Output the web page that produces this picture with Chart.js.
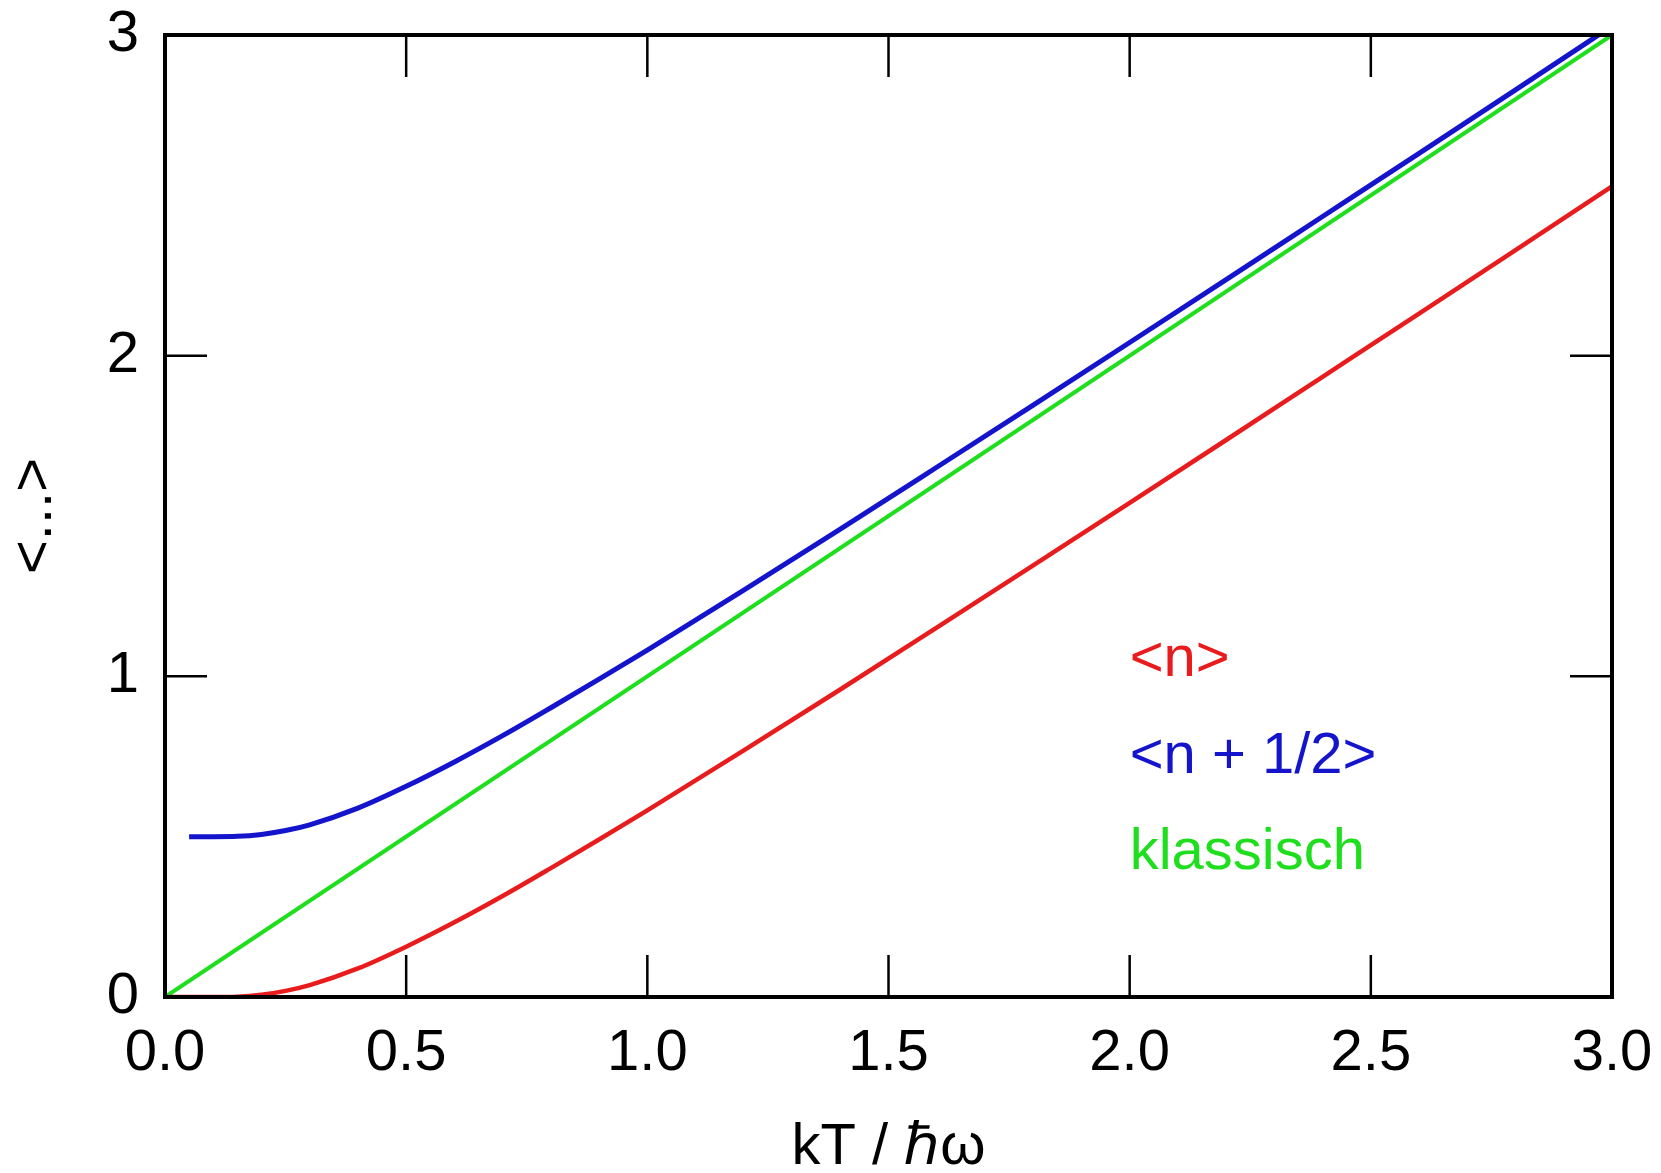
<!DOCTYPE html>
<html>
<head>
<meta charset="utf-8">
<script src="https://cdn.jsdelivr.net/npm/chart.js@4/dist/chart.umd.min.js"></script>
<style>
  html, body { margin: 0; padding: 0; background: #fff; }
  #wrap { width: 1661px; height: 1173px; }
</style>
</head>
<body>
<div id="wrap"><canvas id="chart" width="1661" height="1173"></canvas></div>
<script>
// values
const kT = [0, 0.05, 0.1, 0.15, 0.2, 0.25, 0.3, 0.4, 0.5, 0.6, 0.7, 0.8, 0.9, 1.0,
            1.2, 1.4, 1.6, 1.8, 2.0, 2.2, 2.4, 2.6, 2.8, 3.0];
const nMean = [0, 0, 0, 0.001, 0.007, 0.019, 0.037, 0.089, 0.157, 0.233, 0.315, 0.402, 0.491, 0.582,
               0.769, 0.959, 1.152, 1.346, 1.541, 1.737, 1.934, 2.131, 2.329, 2.528];
const kTHalf = [0.05, 0.1, 0.15, 0.2, 0.25, 0.3, 0.4, 0.5, 0.6, 0.7, 0.8, 0.9, 1.0,
                1.2, 1.4, 1.6, 1.8, 2.0, 2.2, 2.4, 2.6, 2.8, 3.0];
const nHalf = [0.5, 0.5, 0.501, 0.507, 0.519, 0.537, 0.589, 0.657, 0.733, 0.815, 0.902, 0.991, 1.082,
               1.269, 1.459, 1.652, 1.846, 2.041, 2.237, 2.434, 2.631, 2.829, 3.028];
const kTClassic = [0, 3];
const classic = [0, 3];

const xTicks = [0, 0.5, 1.0, 1.5, 2.0, 2.5, 3.0];
const yTicks = [0, 1, 2, 3];

const labels = ['<n>', '<n + 1/2>', 'klassisch'];
const labelX = [2.0, 2.0, 2.0];
const labelY = [1.0, 0.7, 0.4];

const RED = '#e81c1c';
const BLUE = '#1414cc';
const GREEN = '#1ede1e';
const FONT = "'Liberation Sans', Arial, sans-serif";

const toPoints = (xs, ys) => xs.map((x, i) => ({ x: x, y: ys[i] }));

// frame + inward ticks on all four sides
const framePlugin = {
  id: 'frame',
  afterDatasetsDraw(chart) {
    const { ctx, chartArea: a, scales } = chart;
    const len = 42;
    ctx.save();
    ctx.strokeStyle = '#000';
    ctx.lineWidth = 2.5;
    ctx.beginPath();
    xTicks.forEach(v => {
      const px = scales.x.getPixelForValue(v);
      ctx.moveTo(px, a.bottom); ctx.lineTo(px, a.bottom - len);
      ctx.moveTo(px, a.top); ctx.lineTo(px, a.top + len);
    });
    yTicks.forEach(v => {
      const py = scales.y.getPixelForValue(v);
      ctx.moveTo(a.left, py); ctx.lineTo(a.left + len, py);
      ctx.moveTo(a.right, py); ctx.lineTo(a.right - len, py);
    });
    ctx.stroke();
    ctx.lineWidth = 4;
    ctx.strokeRect(a.left, a.top, a.right - a.left, a.bottom - a.top);
    ctx.restore();
  }
};

// curve labels inside the plot
const labelPlugin = {
  id: 'curveLabels',
  afterDraw(chart) {
    const { ctx, scales } = chart;
    const colors = [RED, BLUE, GREEN];
    ctx.save();
    ctx.font = '58px ' + FONT;
    ctx.textAlign = 'left';
    ctx.textBaseline = 'alphabetic';
    labels.forEach((t, i) => {
      ctx.fillStyle = colors[i];
      ctx.fillText(t, scales.x.getPixelForValue(labelX[i]), scales.y.getPixelForValue(labelY[i]));
    });
    ctx.restore();
  }
};

new Chart(document.getElementById('chart'), {
  type: 'line',
  data: {
    datasets: [
      { label: '<n>', data: toPoints(kT, nMean), borderColor: RED, borderWidth: 4.5, cubicInterpolationMode: 'monotone' },
      { label: '<n + 1/2>', data: toPoints(kTHalf, nHalf), borderColor: BLUE, borderWidth: 5, cubicInterpolationMode: 'monotone' },
      { label: 'klassisch', data: toPoints(kTClassic, classic), borderColor: GREEN, borderWidth: 4 }
    ]
  },
  options: {
    responsive: false,
    animation: false,
    elements: { point: { radius: 0 } },
    layout: { padding: { top: 35, right: 49, left: 0, bottom: 0 } },
    plugins: { legend: { display: false }, tooltip: { enabled: false } },
    scales: {
      x: {
        type: 'linear',
        min: 0, max: 3,
        afterFit(s) { s.height = 176; s.paddingLeft = 0; s.paddingRight = 0; },
        afterBuildTicks(s) { s.ticks = xTicks.map(v => ({ value: v })); },
        grid: { display: false },
        border: { display: false },
        ticks: {
          color: '#000',
          font: { family: FONT, size: 58 },
          padding: 14,
          maxRotation: 0,
          callback: v => v.toFixed(1)
        },
        title: {
          display: true,
          text: 'kT / ℏω',
          color: '#000',
          font: { family: FONT, size: 58 },
          padding: { top: 0, bottom: -10 }
        }
      },
      y: {
        type: 'linear',
        min: 0, max: 3,
        afterFit(s) { s.width = 165; s.paddingTop = 0; s.paddingBottom = 0; },
        afterBuildTicks(s) { s.ticks = yTicks.map(v => ({ value: v })); },
        grid: { display: false },
        border: { display: false },
        ticks: {
          color: '#000',
          font: { family: FONT, size: 58 },
          padding: 18,
          callback: v => String(v)
        },
        title: {
          display: true,
          text: '<...>',
          color: '#000',
          font: { family: FONT, size: 58 },
          padding: { top: 0, bottom: 0 }
        }
      }
    }
  },
  plugins: [framePlugin, labelPlugin]
});
</script>
</body>
</html>
